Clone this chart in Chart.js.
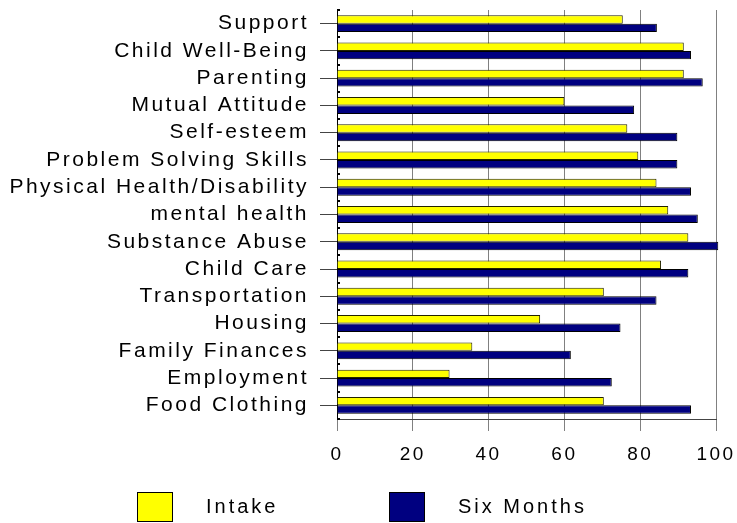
<!DOCTYPE html>
<html>
<head>
<meta charset="utf-8">
<script src="https://cdn.jsdelivr.net/npm/chart.js@4/dist/chart.umd.min.js"></script>
<style>
  html, body { margin: 0; padding: 0; background: #fff; }
  #wrap { width: 737px; height: 523px; }
</style>
</head>
<body>
<div id="wrap"><canvas id="outcomeChart" width="737" height="523"></canvas></div>
<script>
// 項目とスコア
const categories = [
    'Support', 'Child Well-Being', 'Parenting', 'Mutual Attitude', 'Self-esteem',
    'Problem Solving Skills', 'Physical Health/Disability', 'mental health',
    'Substance Abuse', 'Child Care', 'Transportation', 'Housing',
    'Family Finances', 'Employment', 'Food Clothing'
];
const intakeScores    = [75.4, 91.5, 91.5, 60, 76.6, 79.5, 84.3, 87.4, 92.7, 85.5, 70.4, 53.6, 35.7, 29.7, 70.4];
const sixMonthScores  = [84.4, 93.4, 96.5, 78.4, 89.8, 89.8, 93.4, 95.2, 100.6, 92.7, 84.3, 74.8, 61.7, 72.5, 93.4];
const xTickValues     = [0, 20, 40, 60, 80, 100];

const FONT = 'Arial, "Liberation Sans", sans-serif';
const SPACING = '2.5px';

// 文字間隔を広げる(canvasのletterSpacing)
const spacingPlugin = {
    id: 'spacing',
    beforeLayout(chart) { chart.ctx.letterSpacing = SPACING; },
    beforeDraw(chart) { chart.ctx.letterSpacing = SPACING; }
};

// 縦軸の内側の小さな目盛り(項目の境目)と凡例
const extrasPlugin = {
    id: 'extras',
    afterDraw(chart) {
        const ctx = chart.ctx;
        const yScale = chart.scales.y;
        const left = chart.chartArea.left;
        const step = yScale.getPixelForValue(1) - yScale.getPixelForValue(0);
        ctx.save();
        ctx.fillStyle = '#000';
        for (let i = 0; i <= categories.length; i++) {
            const y = yScale.getPixelForValue(i) - step / 2;
            ctx.fillRect(left, Math.round(y) - 1, 3, 2);
        }

        // 凡例
        ctx.letterSpacing = '3px';
        ctx.font = '20px ' + FONT;
        ctx.textBaseline = 'middle';
        ctx.textAlign = 'left';
        const boxX = [137, 389];
        chart.data.datasets.forEach((ds, i) => {
            ctx.fillStyle = ds.backgroundColor;
            ctx.fillRect(boxX[i], 492, 36, 30);
            ctx.strokeStyle = '#000';
            ctx.lineWidth = 1;
            ctx.strokeRect(boxX[i] + 0.5, 492.5, 35, 29);
            ctx.fillStyle = '#000';
            ctx.fillText(ds.label, boxX[i] + 69, 507);
        });
        ctx.restore();
    }
};

const context = document.getElementById('outcomeChart').getContext('2d');

new Chart(context, {
    type: 'bar',
    data: {
        labels: categories,
        datasets: [
            {
                label: 'Intake',
                data: intakeScores,
                backgroundColor: '#FFFF00',
                borderColor: '#222200',
                borderWidth: 1,
                categoryPercentage: 0.62,
                barPercentage: 1.0
            },
            {
                label: 'Six Months',
                data: sixMonthScores,
                backgroundColor: '#000080',
                borderColor: '#000000',
                borderWidth: 1,
                categoryPercentage: 0.62,
                barPercentage: 1.0,
                clip: false
            }
        ]
    },
    options: {
        indexAxis: 'y',
        responsive: false,
        animation: false,
        devicePixelRatio: 1,
        layout: { padding: { top: 10, right: 21, bottom: 54, left: 0 } },
        plugins: {
            legend: { display: false },
            tooltip: { enabled: false }
        },
        scales: {
            x: {
                min: 0,
                max: 100,
                afterBuildTicks(scale) {
                    scale.ticks = xTickValues.map(v => ({ value: v }));
                },
                afterFit(scale) {
                    scale.height = 50;
                    scale.paddingLeft = 0;
                    scale.paddingRight = 0;
                },
                grid: {
                    color: '#808080',
                    lineWidth: 1,
                    tickLength: 12,
                    tickColor: '#808080'
                },
                border: { color: '#444', width: 1 },
                ticks: {
                    color: '#000',
                    font: { family: FONT, size: 19 },
                    padding: 12,
                    maxRotation: 0
                }
            },
            y: {
                afterFit(scale) {
                    scale.width = 337;
                    scale.paddingTop = 0;
                    scale.paddingBottom = 0;
                },
                grid: {
                    offset: false,
                    drawOnChartArea: false,
                    tickLength: 17,
                    tickColor: '#444'
                },
                border: { color: '#000', width: 1 },
                ticks: {
                    color: '#000',
                    font: { family: FONT, size: 21 },
                    padding: 11,
                    autoSkip: false
                }
            }
        }
    },
    plugins: [spacingPlugin, extrasPlugin]
});
</script>
</body>
</html>
